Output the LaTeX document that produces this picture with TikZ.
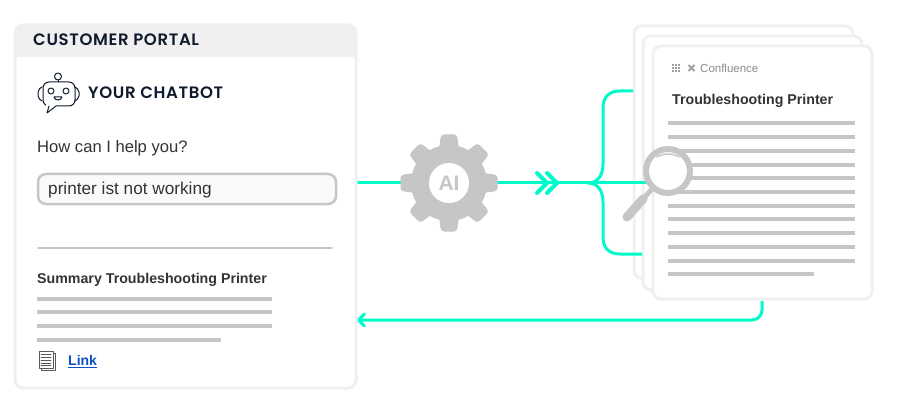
\documentclass[tikz,border=0pt]{standalone}
\usepackage{fontspec}
\setmainfont{Liberation Sans}
\newfontfamily\headfont[LetterSpace=4,BoldFont={Poppins SemiBold}]{Poppins}
\usetikzlibrary{calc}
\usetikzlibrary{arrows.meta}
\definecolor{teal1}{HTML}{00FBCB}
\definecolor{gray1}{HTML}{C6C6C6}
\definecolor{frame1}{HTML}{F0F0F0}
\definecolor{ink1}{HTML}{333333}
\definecolor{navy1}{HTML}{0F1B2D}
\definecolor{link1}{HTML}{0B50C4}

\begin{document}
\begin{tikzpicture}[x=1pt, y=-1pt, line cap = round, line join = round]
\tikzstyle{panel}=[draw=frame1, line width=3pt, fill=white, rounded corners=8pt, anchor=north west, inner sep=0pt, outer sep=0pt]
\tikzstyle{textline}=[draw=gray1, line width=4pt, line cap=butt]
\tikzstyle{flow}=[draw=teal1, line width=3pt, line cap=butt]
\tikzstyle{heading}=[anchor=west, inner sep=0pt, text=navy1, font=\headfont\fontsize{16.5}{19}\selectfont\bfseries]
\tikzstyle{body}=[anchor=west, inner sep=0pt, text=ink1, font=\fontsize{16.6}{19}\selectfont]
\tikzstyle{title}=[anchor=west, inner sep=0pt, text=ink1, font=\fontsize{14.2}{17}\selectfont\bfseries]
\tikzstyle{robot}=[draw=navy1, line width=1pt]
\useasboundingbox (0,0) rectangle (900,417);

% pages
\node[panel, minimum width=219pt, minimum height=252pt] (page1) at (634,26) {};
\node[panel, minimum width=219pt, minimum height=254pt] (page2) at (643,36) {};
\coordinate (gear) at (449,183);
\coordinate (fork) at (588,183);
\coordinate (topend) at (633,91);
\coordinate (botend) at (642,254);
\coordinate (lensend) at (650,183);

% connectors
\draw[flow] (357,183) -- (gear);
\draw[flow] (gear) -- (lensend);
\draw[teal1, line width=4pt, line cap=round, line join=miter] (537,173) -- (547,183) -- (537,193);
\draw[teal1, line width=4pt, line cap=round, line join=miter] (547,173) -- (557,183) -- (547,193);
\draw[flow] (fork) .. controls (598,183) and (603,175) .. (603,164) -- (603,108) .. controls (603,97) and (609,91) .. (620,91) -- (topend);
\draw[flow] (fork) .. controls (598,183) and (603,191) .. (603,202) -- (603,237) .. controls (603,248) and (609,254) .. (620,254) -- (botend);

% gear
\fill[gray1] (gear) circle (38);
\foreach \a in {0,45,...,315}
  \fill[gray1, shift={(gear)}, rotate=\a, rounded corners=3pt] (-10,-34) -- (-8,-48.5) -- (8,-48.5) -- (10,-34) -- cycle;
\node[circle, fill=white, minimum size=40pt, inner sep=0pt, text=gray1, font=\fontsize{21}{24}\selectfont\bfseries] (ai) at (gear) {AI};

% front page
\node[panel, minimum width=219pt, minimum height=253pt] (page3) at (653,46) {};
\foreach \i in {0,...,2}
  \foreach \j in {0,...,2}
    \fill[gray!75] ($(672,64.5)+(3*\i,3*\j)$) rectangle +(2,2);
\draw[gray!75, line width=2pt, line cap=butt] (688.5,65) -- (694.5,71);
\draw[gray!75, line width=2pt, line cap=butt] (694.5,65) -- (688.5,71);
\node[anchor=west, inner sep=0pt, text=gray!90, font=\fontsize{11.5}{13}\selectfont] (conf) at (700,68) {Confluence};
\node[title] (pagetitle) at (672,100.5) {Troubleshooting Printer};
\foreach \k in {0,...,10}
  \draw[textline] (668,123.5+13.7*\k) -- (855,123.5+13.7*\k);
\draw[textline] (668,274) -- (814,274);

% magnifier
\coordinate (lens) at (668,171);
\draw[gray1, line width=5pt] ($(lens)+(-16,18)$) -- ($(lens)+(-24,27)$);
\draw[gray1, line width=9pt, line cap=round] ($(lens)+(-25,28)$) -- ($(lens)+(-41,46)$);
\draw[gray1, line width=6pt, fill=white] (lens) circle (22);
\draw[gray1, line width=1.5pt] ($(lens)+(-11,-14)$) .. controls ($(lens)+(-5,-18)$) and ($(lens)+(5,-18)$) .. ($(lens)+(11,-14)$);

% return
\coordinate (retstart) at (762,301);
\coordinate (retend) at (357,320);
\draw[flow, rounded corners=10pt, -{Straight Barb[length=6pt,width=12pt,round]}] (retstart) |- (retend);

% portal
\node[panel, minimum width=341pt, minimum height=363pt] (portal) at (15,25) {};
\fill[frame1] (14,57) -- (14,32) [rounded corners=8pt] -- (14,24) -- (357,24) [sharp corners] -- (357,57) -- cycle;
\node[heading] (portaltitle) at (33,40) {CUSTOMER PORTAL};

% robot
\draw[robot, rounded corners=6pt] (43,82) rectangle (75,106);
\fill[white] (46,104) -- (56,104) -- (56,108) -- (46,108) -- cycle;
\draw[robot] (49,106) -- (47,113) -- (56,106);
\draw[robot] (58,80) -- (58,82);
\draw[robot] (58,76.5) circle (3.5);
\draw[robot] (51,91) circle (3);
\draw[robot] (66,91) circle (3);
\draw[robot] (54,97) .. controls (55,101) and (61,101) .. (62,97) -- cycle;
\draw[robot, rounded corners=2pt] (42,87) -- (38,90) -- (38,98) -- (42,101);
\draw[robot, rounded corners=2pt] (75,87) -- (79,90) -- (79,98) -- (75,101);
\node[heading] (bottitle) at (88,92.5) {YOUR CHATBOT};

\node[body] (question) at (37,148) {How can I help you?};
\node[panel, draw=gray1, line width=2.5pt, fill=black!2, minimum width=298pt, minimum height=30pt] (input) at (38,174) {};
\node[body, font=\fontsize{17.2}{20}\selectfont] (inputtext) at (48,190) {printer ist not working};
\draw[gray1, line width=1.5pt] (38,248) -- (332,248);
\node[title] (summary) at (37,279.5) {Summary Troubleshooting Printer};
\foreach \k in {0,1,2}
  \draw[textline] (37,298.5+13.7*\k) -- (272,298.5+13.7*\k);
\draw[textline] (37,339.5) -- (221,339.5);

% doc icon
\draw[gray!70!black, line width=1pt, fill=white] (41,353) rectangle (55,370);
\draw[gray!70!black, line width=1pt, fill=white] (39,351) rectangle (53,368);
\foreach \k in {0,...,4}
  \draw[gray!70!black, line width=0.8pt] (41,354.5+2.8*\k) -- (51,354.5+2.8*\k);
\node[anchor=west, inner sep=0pt, text=link1, font=\fontsize{14}{17}\selectfont\bfseries] (link) at (68,361.5) {\underline{Link}};
\end{tikzpicture}
\end{document}
